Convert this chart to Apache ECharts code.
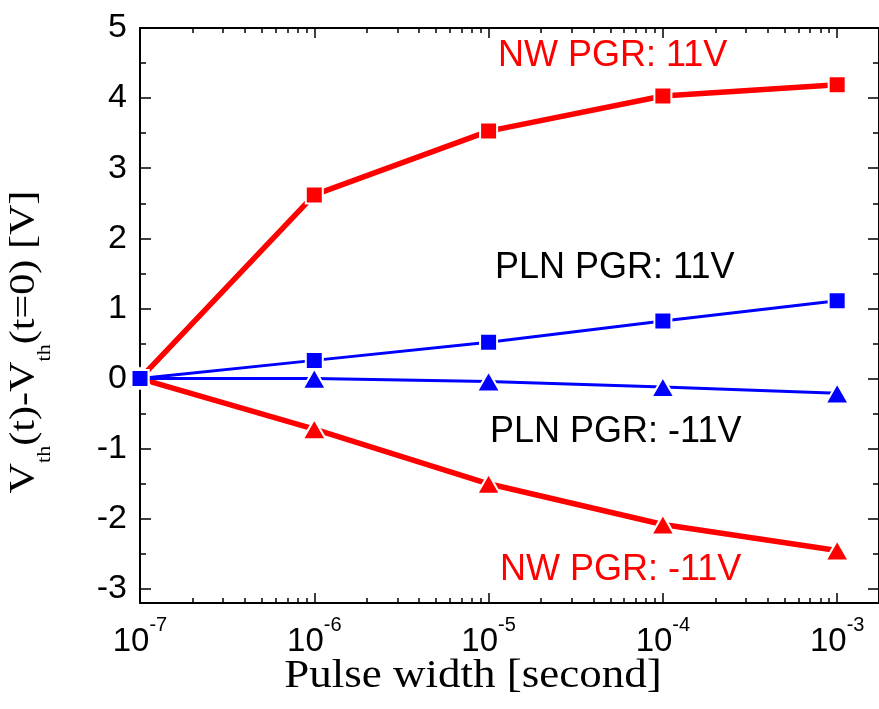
<!DOCTYPE html>
<html>
<head>
<meta charset="utf-8">
<script src="https://cdn.jsdelivr.net/npm/echarts@6/dist/echarts.min.js"></script>
<style>
  html, body { margin: 0; padding: 0; background: #ffffff; }
  #chart { width: 879px; height: 709px; }
</style>
</head>
<body>
<div id="chart"></div>
<script>
// pulse widths [s]
const pulseWidths = [1e-7, 1e-6, 1e-5, 1e-4, 1e-3];

// Vth shift [V]
const nwPos = [0, 2.62, 3.53, 4.03, 4.19];     // NW PGR: 11V
const plnPos = [0, 0.26, 0.52, 0.82, 1.11];    // PLN PGR: 11V
const plnNeg = [0, 0.0, -0.04, -0.12, -0.21];  // PLN PGR: -11V
const nwNeg = [0, -0.72, -1.5, -2.08, -2.45];  // NW PGR: -11V

// axis ticks
const xTickExps = [-7, -6, -5, -4, -3];
const yTicks = [-3, -2, -1, 0, 1, 2, 3, 4, 5];
const yMinorTicks = [-2.5, -1.5, -0.5, 0.5, 1.5, 2.5, 3.5, 4.5];

const X_MIN = -7;
const X_MAX = -2.76;
const Y_MIN = -3.2;
const Y_MAX = 5;

const xMinorTicks = [];
for (let e = -7; e <= -3; e++) {
  for (let k = 2; k <= 9; k++) {
    const v = e + Math.log10(k);
    if (v < X_MAX) xMinorTicks.push(v);
  }
}

const RED = "#ff0000";
const BLUE = "#0000ff";
const SANS = '"Liberation Sans", Arial, sans-serif';
const SERIF = '"Liberation Serif", "Times New Roman", serif';

const toPoints = (ys) => pulseWidths.map((x, i) => [Math.log10(x), ys[i]]);

const chart = echarts.init(document.getElementById("chart"));

function xAxisDef(position, ticks, len, withLabels, withLine) {
  return {
    type: "value",
    position: position,
    min: X_MIN,
    max: X_MAX,
    axisLine: { show: withLine, onZero: false, lineStyle: { color: "#000", width: 2 } },
    axisTick: {
      show: true,
      inside: true,
      length: len,
      customValues: ticks,
      lineStyle: { color: "#000", width: 1.5 },
    },
    axisLabel: withLabels
      ? {
          show: true,
          margin: 12,
          customValues: xTickExps,
          formatter: (v) => "{b|10}{s|" + Math.round(v) + "}",
          rich: {
            b: { fontFamily: SANS, fontSize: 33, color: "#000", verticalAlign: "top", height: 54 },
            s: { fontFamily: SANS, fontSize: 20, color: "#000", verticalAlign: "top", height: 20 },
          },
        }
      : { show: false },
    splitLine: { show: false },
  };
}

function yAxisDef(position, ticks, len, withLabels, withLine) {
  return {
    type: "value",
    position: position,
    min: Y_MIN,
    max: Y_MAX,
    axisLine: { show: withLine, onZero: false, lineStyle: { color: "#000", width: 2 } },
    axisTick: {
      show: true,
      inside: true,
      length: len,
      customValues: ticks,
      lineStyle: { color: "#000", width: 1.5 },
    },
    axisLabel: withLabels
      ? {
          show: true,
          margin: 13,
          customValues: yTicks,
          fontFamily: SANS,
          fontSize: 34,
          color: "#000",
        }
      : { show: false },
    splitLine: { show: false },
  };
}

const option = {
  backgroundColor: "#ffffff",
  animation: false,
  grid: { left: 140, right: 0, top: 28, bottom: 106 },
  xAxis: [
    xAxisDef("bottom", xTickExps, 10, true, true),
    xAxisDef("bottom", xMinorTicks, 5, false, false),
    xAxisDef("top", xTickExps, 10, false, true),
    xAxisDef("top", xMinorTicks, 5, false, false),
  ],
  yAxis: [
    yAxisDef("left", yTicks, 11, true, true),
    yAxisDef("left", yMinorTicks, 6, false, false),
    yAxisDef("right", yTicks, 11, false, true),
    yAxisDef("right", yMinorTicks, 6, false, false),
  ],
  series: [
    {
      name: "NW PGR: 11V",
      type: "line",
      data: toPoints(nwPos),
      symbol: "rect",
      symbolSize: 17,
      lineStyle: { color: RED, width: 5.5 },
      itemStyle: { color: RED, borderColor: "#fff", borderWidth: 2 },
    },
    {
      name: "NW PGR: -11V",
      type: "line",
      data: toPoints(nwNeg),
      symbol: "triangle",
      symbolSize: [23, 20],
      lineStyle: { color: RED, width: 5.5 },
      itemStyle: { color: RED, borderColor: "#fff", borderWidth: 2 },
    },
    {
      name: "PLN PGR: -11V",
      type: "line",
      data: toPoints(plnNeg),
      symbol: "triangle",
      symbolSize: [23, 20],
      lineStyle: { color: BLUE, width: 3 },
      itemStyle: { color: BLUE, borderColor: "#fff", borderWidth: 2 },
    },
    {
      name: "PLN PGR: 11V",
      type: "line",
      data: toPoints(plnPos),
      symbol: "rect",
      symbolSize: 17,
      lineStyle: { color: BLUE, width: 3 },
      itemStyle: { color: BLUE, borderColor: "#fff", borderWidth: 2 },
    },
  ],
  graphic: [
    {
      type: "text", x: 498, y: 56,
      style: { text: "NW PGR: 11V", fill: RED, fontFamily: SANS, fontSize: 36, align: "left", verticalAlign: "middle" },
    },
    {
      type: "text", x: 495, y: 268,
      style: { text: "PLN PGR: 11V", fill: "#000", fontFamily: SANS, fontSize: 36, align: "left", verticalAlign: "middle" },
    },
    {
      type: "text", x: 490, y: 432,
      style: { text: "PLN PGR: -11V", fill: "#000", fontFamily: SANS, fontSize: 36, align: "left", verticalAlign: "middle" },
    },
    {
      type: "text", x: 500, y: 570,
      style: { text: "NW PGR: -11V", fill: RED, fontFamily: SANS, fontSize: 36, align: "left", verticalAlign: "middle" },
    },
    {
      // x axis title
      type: "text", x: 473, y: 676, scaleX: 1.125,
      style: { text: "Pulse width [second]", fill: "#000", fontFamily: SERIF, fontSize: 40, align: "center", verticalAlign: "middle" },
    },
    {
      // y axis title, rotated
      type: "text", x: 7, y: 342, rotation: Math.PI / 2, scaleX: 1.17,
      style: {
        text: "{v|V}{s|th}{v|(t)-V}{s|th}{v|(t=0) [V]}",
        align: "center",
        verticalAlign: "top",
        fill: "#000",
        rich: {
          v: { fontFamily: SERIF, fontSize: 36, fill: "#000", verticalAlign: "top", height: 36 },
          s: { fontFamily: SERIF, fontSize: 19, fill: "#000", verticalAlign: "top", height: 76 },
        },
      },
    },
  ],
};

chart.setOption(option);
</script>
</body>
</html>
